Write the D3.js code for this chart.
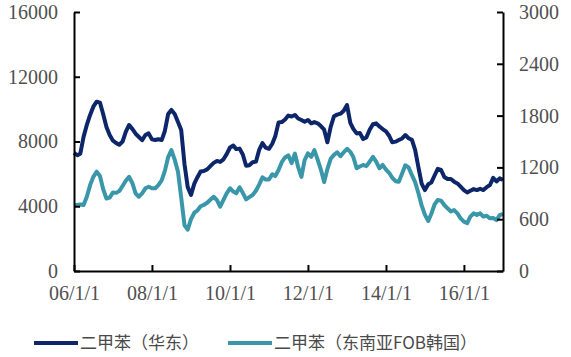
<!DOCTYPE html>
<html><head><meta charset="utf-8">
<script src="https://cdn.jsdelivr.net/npm/d3@7"></script>
<style>
html,body{margin:0;padding:0;background:#fff;}
svg{display:block;}
.num{font-family:"Liberation Serif","Times New Roman","DejaVu Serif",serif;font-size:20px;}
</style></head>
<body>
<svg id="chart" width="571" height="357"></svg>
<script>
// Monthly samples, first month and count
const firstMonth = "2006-01-01";
// 二甲苯（华东）, CNY/t, left axis
const huadong = [7300,7150,7250,8300,9020,9640,10150,10460,10400,9700,8900,8400,8050,7900,7800,8000,8600,9020,8780,8480,8280,8080,8400,8500,8130,8090,8140,8090,8650,9700,9950,9700,9200,8710,6600,5180,4700,5400,5780,6150,6180,6280,6480,6680,6800,6740,6900,7220,7630,7750,7530,7560,7200,6500,6530,6720,6755,7480,7900,7620,7550,7860,8330,9180,9200,9360,9600,9545,9640,9420,9330,9225,9330,9125,9200,9125,8950,8730,7950,8900,9560,9660,9720,9900,10250,9150,8780,8500,8530,8150,8250,8720,9070,9120,8930,8770,8630,8340,7950,7990,8090,8190,8400,8200,8100,7480,6400,5400,5000,5360,5460,5900,6310,6240,5810,5680,5680,5520,5410,5210,5000,4850,4960,5060,5000,5080,5000,5180,5310,5750,5530,5720,5620];
// 二甲苯（东南亚FOB韩国）, USD/t, right axis
const fobKorea = [764,764,770,764,860,995,1090,1150,1100,950,840,850,910,905,925,985,1045,1090,1020,900,860,900,958,976,958,958,995,1050,1160,1320,1400,1290,1150,850,530,480,600,675,700,750,765,790,825,860,820,745,825,900,958,920,900,970,905,830,855,880,930,1000,1085,1060,1060,1120,1100,1170,1260,1315,1340,1250,1360,1205,1090,1285,1363,1323,1400,1290,1175,1030,1180,1300,1345,1375,1330,1375,1415,1380,1320,1190,1210,1228,1215,1266,1323,1266,1190,1228,1175,1135,1080,1040,1035,1130,1225,1200,1110,1030,900,760,650,580,660,770,822,815,764,726,690,705,668,610,572,555,630,668,650,668,630,640,610,615,590,648,660];
const leftTicks = [0,4000,8000,12000,16000];
const rightTicks = [0,600,1200,1800,2400,3000];
const xTickLabels = ["06/1/1","08/1/1","10/1/1","12/1/1","14/1/1","16/1/1"];
const xTickDates = ["2006-01-01","2008-01-01","2010-01-01","2012-01-01","2014-01-01","2016-01-01"];
const seriesNames = ["二甲苯（华东）","二甲苯（东南亚FOB韩国）"];
const colors = ["#0c2669","#3a96a9"];

const parse = d3.timeParse("%Y-%m-%d");
const start = parse(firstMonth);
const months = huadong.map((_, i) => d3.timeMonth.offset(start, i));

const L = 74, R = 503, T = 12, B = 271;
const svg = d3.select("#chart");
const x = d3.scaleTime().domain([parse("2006-01-01"), parse("2017-01-01")]).range([L, R]);
const yL = d3.scaleLinear().domain([0, 16000]).range([B, T]);
const yR = d3.scaleLinear().domain([0, 3000]).range([B, T]);

// lines
const line1 = d3.line().x((d, i) => x(months[i])).y(d => yL(d));
const line2 = d3.line().x((d, i) => x(months[i])).y(d => yR(d));
svg.append("path").attr("d", line2(fobKorea)).attr("fill", "none")
  .attr("stroke", colors[1]).attr("stroke-width", 4).attr("stroke-linejoin", "round");
svg.append("path").attr("d", line1(huadong)).attr("fill", "none")
  .attr("stroke", colors[0]).attr("stroke-width", 4).attr("stroke-linejoin", "round");

// axes
const axL = d3.axisLeft(yL).tickValues(leftTicks).tickSizeInner(-6).tickSizeOuter(0).tickFormat(d3.format("d")).tickPadding(16);
const axR = d3.axisRight(yR).tickValues(rightTicks).tickSizeInner(-6).tickSizeOuter(0).tickFormat(d3.format("d")).tickPadding(16);
const axB = d3.axisBottom(x).tickValues(xTickDates.map(parse)).tickSizeInner(-6).tickSizeOuter(0)
  .tickFormat((d, i) => xTickLabels[i]).tickPadding(15);

function style(g) {
  g.attr("font-family", null).attr("font-size", null);
  g.select(".domain").attr("stroke", "#000").attr("stroke-width", 2);
  g.selectAll(".tick line").attr("stroke", "#000").attr("stroke-width", 2);
  g.selectAll(".tick text").attr("class", "num").attr("fill", "#505050");
}
svg.append("g").attr("transform", `translate(${L},0)`).call(axL).call(style);
svg.append("g").attr("transform", `translate(${R},0)`).call(axR).call(style);
svg.append("g").attr("transform", `translate(0,${B})`).call(axB).call(style);

// legend
const leg = svg.append("g");
const legItems = [{x1: 34, x2: 78, tx: 80}, {x1: 228, x2: 272, tx: 274}];
legItems.forEach((p, i) => {
  leg.append("line").attr("x1", p.x1).attr("x2", p.x2).attr("y1", 343).attr("y2", 343)
    .attr("stroke", colors[i]).attr("stroke-width", 4);
  leg.append("text").attr("x", p.tx).attr("y", 349).text(seriesNames[i])
    .attr("fill", "#4a4a4a").style("font-family", "'Noto Sans CJK SC',sans-serif").style("font-size", "17px");
});
</script>
</body></html>
